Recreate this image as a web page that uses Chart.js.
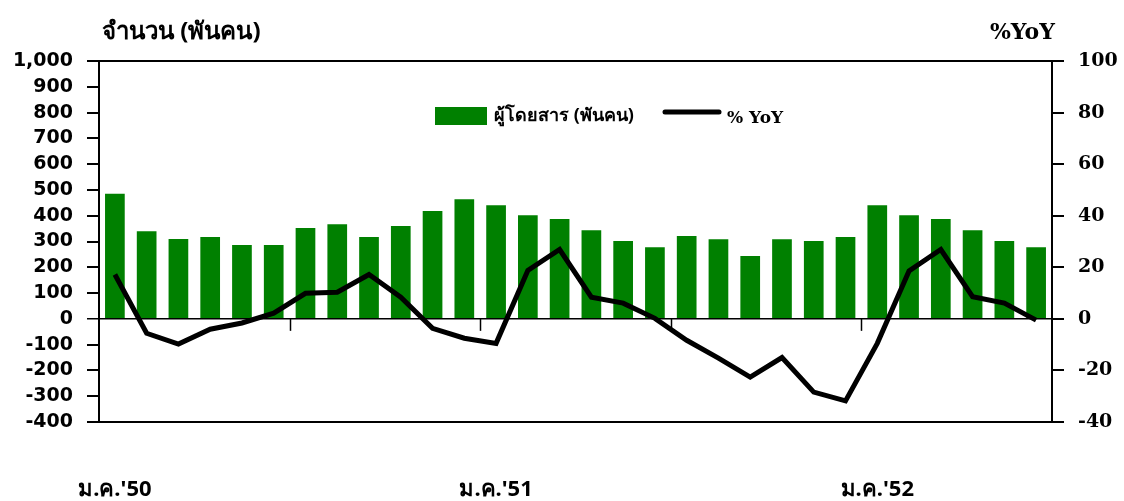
<!DOCTYPE html>
<html>
<head>
<meta charset="utf-8">
<script src="https://cdn.jsdelivr.net/npm/chart.js@4"></script>
<style>
  body { margin: 0; background: #fff; }
  #wrap { width: 1124px; height: 501px; }
</style>
</head>
<body>
<div id="wrap"><canvas id="air"></canvas></div>
<script>
const months = ["ม.ค.", "ก.พ.", "มี.ค.", "เม.ย.", "พ.ค.", "มิ.ย.", "ก.ค.", "ส.ค.", "ก.ย.", "ต.ค.", "พ.ย.", "ธ.ค."];
const years = ["'50", "'51", "'52"];
const nMonths = 30;

// ผู้โดยสาร (พันคน)
const passengers = [485, 340, 310, 317, 286, 286, 352, 367, 317, 360, 418, 464,
  441, 402, 387, 344, 302, 278, 321, 309, 244, 309, 302, 317,
  441, 402, 387, 344, 302, 278];
// % YoY
const yoy = [17.2, -5.6, -9.8, -4.0, -1.6, 2.2, 9.9, 10.3, 17.2, 8.4, -3.7, -7.5,
  -9.5, 18.8, 26.9, 8.4, 6.1, 0.2, -8.3, -15.2, -22.6, -15.0, -28.4, -31.8,
  -9.5, 18.6, 26.9, 8.6, 6.1, -0.5];

const leftTicks = { min: -400, max: 1000, step: 100 };
const rightTicks = { min: -40, max: 100, step: 20 };

const labels = [];
for (let i = 0; i < nMonths; i++) {
  labels.push(months[i % 12] + years[Math.floor(i / 12)]);
}

const thai = "'Noto Sans', 'DejaVu Sans', sans-serif";
const slab = "'DejaVu Serif', serif";

const overlay = {
  id: "overlay",
  afterDraw(chart) {
    const { ctx, scales: { x, y } } = chart;
    ctx.save();
    // tick marks on the zero line every 6 months
    const zero = y.getPixelForValue(0);
    const half = (x.getPixelForValue(1) - x.getPixelForValue(0)) / 2;
    ctx.strokeStyle = "#000";
    ctx.lineWidth = 1.5;
    for (let i = 6; i < nMonths; i += 6) {
      const px = Math.round(x.getPixelForValue(i) - half) + 0.5;
      ctx.beginPath();
      ctx.moveTo(px, zero);
      ctx.lineTo(px, zero + 12);
      ctx.stroke();
    }
    // axis titles
    ctx.fillStyle = "#000";
    ctx.textBaseline = "middle";
    ctx.font = "bold 24px " + thai;
    ctx.textAlign = "left";
    ctx.fillText("จำนวน (พันคน)", 102, 32);
    ctx.font = "bold 22px " + slab;
    ctx.textAlign = "right";
    ctx.fillText("%YoY", 1055, 33);
    // legend
    ctx.fillStyle = "#008000";
    ctx.fillRect(435, 107, 52, 18);
    ctx.fillStyle = "#000";
    ctx.textAlign = "left";
    ctx.font = "bold 18px " + thai;
    ctx.fillText("ผู้โดยสาร (พันคน)", 494, 116);
    ctx.lineWidth = 5;
    ctx.lineCap = "round";
    ctx.beginPath();
    ctx.moveTo(665, 112);
    ctx.lineTo(719, 112);
    ctx.stroke();
    ctx.font = "bold 17px " + slab;
    ctx.fillText("% YoY", 727, 119);
    ctx.restore();
  }
};

new Chart(document.getElementById("air"), {
  type: "bar",
  data: {
    labels: labels,
    datasets: [
      {
        type: "line",
        label: "% YoY",
        data: yoy,
        yAxisID: "y1",
        borderColor: "#000",
        borderWidth: 5,
        pointRadius: 0,
        tension: 0,
        order: 0,
      },
      {
        label: "ผู้โดยสาร (พันคน)",
        data: passengers,
        yAxisID: "y",
        backgroundColor: "#008000",
        barPercentage: 0.62,
        categoryPercentage: 1,
        order: 1,
      },
    ],
  },
  options: {
    responsive: true,
    maintainAspectRatio: false,
    animation: false,
    layout: { padding: { top: 61, left: 0, right: 0, bottom: 0 } },
    plugins: {
      legend: { display: false },
      tooltip: { enabled: false },
    },
    scales: {
      x: {
        grid: { display: true, drawOnChartArea: false, drawTicks: false },
        border: { display: true, color: "#000", width: 2 },
        ticks: {
          autoSkip: false,
          maxRotation: 0,
          padding: 55,
          color: "#000",
          font: { family: thai, weight: "bold", size: 22 },
          callback: (v, i) => (i % 12 === 0 ? labels[i] : ""),
        },
        afterFit: (s) => { s.height = 79; },
      },
      y: {
        position: "left",
        min: leftTicks.min,
        max: leftTicks.max,
        ticks: {
          stepSize: leftTicks.step,
          autoSkip: false,
          padding: 14,
          color: "#000",
          font: { family: "'DejaVu Sans', sans-serif", weight: "bold", size: 19 },
          callback: (v) => v.toLocaleString("en-US"),
        },
        grid: {
          color: (c) => (c.tick && (c.tick.value === 0 || c.tick.value === leftTicks.max) ? "#000" : "rgba(0,0,0,0)"),
          tickColor: "#000",
          tickLength: 12,
          lineWidth: (c) => (c.tick && c.tick.value === 0 ? 1.5 : 2),
        },
        border: { color: "#000", width: 2 },
        afterFit: (s) => { s.width = 99; },
      },
      y1: {
        position: "right",
        min: rightTicks.min,
        max: rightTicks.max,
        ticks: {
          stepSize: rightTicks.step,
          autoSkip: false,
          padding: 14,
          color: "#000",
          font: { family: slab, weight: "bold", size: 19 },
        },
        grid: { drawOnChartArea: false, tickColor: "#000", tickLength: 12, lineWidth: 2 },
        border: { color: "#000", width: 2 },
        afterFit: (s) => { s.width = 72; },
      },
    },
  },
  plugins: [overlay],
});
</script>
</body>
</html>
